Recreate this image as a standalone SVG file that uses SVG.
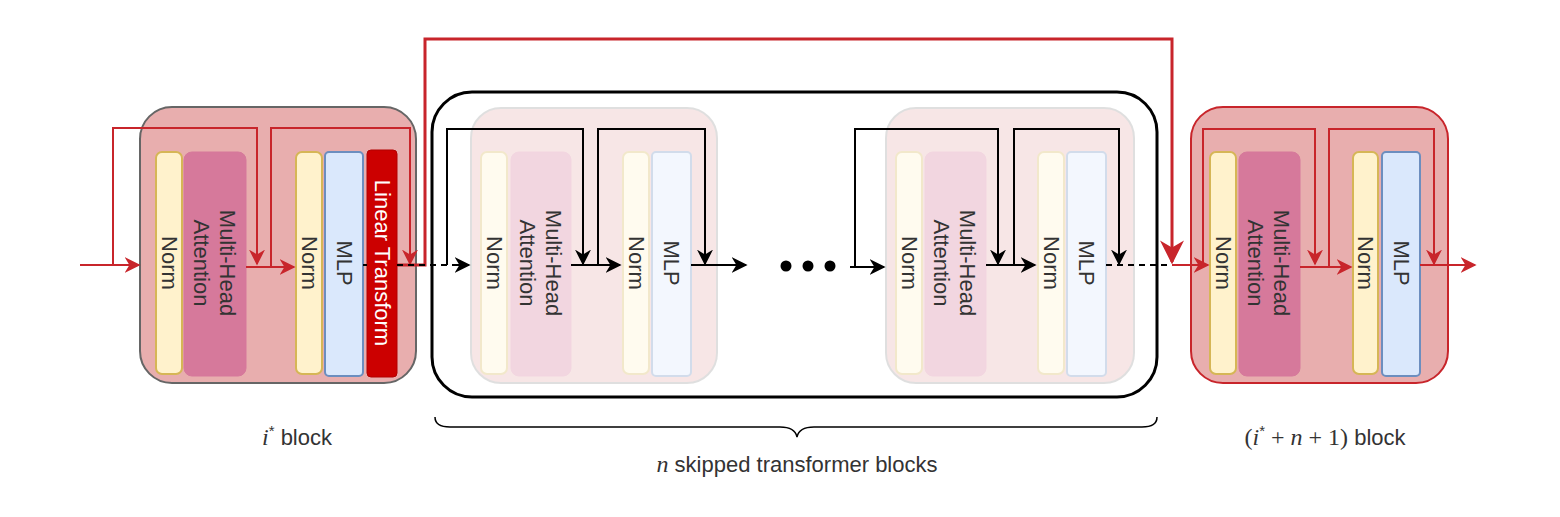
<svg xmlns="http://www.w3.org/2000/svg" width="1560" height="517" viewBox="0 0 1560 517">
<defs>
<style>
text{font-family:"Liberation Sans",Arial,sans-serif;font-size:22px;fill:#333}
.blk{fill:#e8aeae;stroke:#666;stroke-width:2}
.norm{fill:#fff2cc;stroke:#d6b656;stroke-width:2}
.mha{fill:#d6799b;stroke:#d6799b;stroke-width:1}
.mlp{fill:#dae8fc;stroke:#6c8ebf;stroke-width:2}
.r{fill:none;stroke:#c8252b;stroke-width:2}
.k{fill:none;stroke:#000;stroke-width:2}
.rt{text-anchor:middle;dominant-baseline:central}
</style>
<marker id="ar" viewBox="0 0 10 10" refX="9" refY="5" markerWidth="8" markerHeight="8" orient="auto" markerUnits="strokeWidth"><path d="M0,0 L10,5 L0,10 L3,5 z" fill="#c8252b"/></marker>
<marker id="ak" viewBox="0 0 10 10" refX="9" refY="5" markerWidth="8" markerHeight="8" orient="auto" markerUnits="strokeWidth"><path d="M0,0 L10,5 L0,10 L3,5 z" fill="#000"/></marker>
</defs>
<rect width="1560" height="517" fill="#fff"/>

<g id="block-i">
<rect class="blk" x="140" y="107" width="276" height="276" rx="32"/>
<rect class="norm" x="156" y="152" width="26" height="222" rx="6"/>
<rect class="mha" x="184" y="152" width="62" height="224" rx="8"/>
<rect class="norm" x="296" y="152" width="26" height="222" rx="6"/>
<rect class="mlp" x="325" y="152" width="38" height="224" rx="4"/>
<rect x="367" y="150" width="30" height="227" rx="4" fill="#cc0000" stroke="#b20000"/>
<text class="rt" transform="translate(169,263) rotate(90)">Norm</text>
<text class="rt" transform="translate(215,263) rotate(90)"><tspan x="0" dy="-13">Multi-Head</tspan><tspan x="0" dy="26">Attention</tspan></text>
<text class="rt" transform="translate(309,263) rotate(90)">Norm</text>
<text class="rt" transform="translate(344,263) rotate(90)">MLP</text>
<text class="rt" transform="translate(382,263) rotate(90)" style="fill:#fff">Linear Transform</text>
</g>

<g id="skipped">
<rect x="432" y="92" width="725" height="305" rx="40" fill="none" stroke="#000" stroke-width="3"/>
<g id="faded-1" opacity="0.3">
<rect class="blk" x="471" y="108" width="246" height="275" rx="30" style="stroke:#999"/>
<rect class="norm" x="481" y="152" width="26" height="222" rx="6"/>
<rect class="mha" x="511" y="152" width="60" height="224" rx="8"/>
<rect class="norm" x="623" y="152" width="26" height="222" rx="6"/>
<rect class="mlp" x="652" y="152" width="39" height="224" rx="4"/>
</g>
<g>
<text class="rt" transform="translate(494,263) rotate(90)">Norm</text>
<text class="rt" transform="translate(541,263) rotate(90)"><tspan x="0" dy="-13">Multi-Head</tspan><tspan x="0" dy="26">Attention</tspan></text>
<text class="rt" transform="translate(636,263) rotate(90)">Norm</text>
<text class="rt" transform="translate(671,263) rotate(90)">MLP</text>
</g>
<g id="faded-2" opacity="0.3">
<rect class="blk" x="886" y="108" width="248" height="275" rx="30" style="stroke:#999"/>
<rect class="norm" x="896" y="152" width="26" height="222" rx="6"/>
<rect class="mha" x="925" y="152" width="61" height="224" rx="8"/>
<rect class="norm" x="1038" y="152" width="26" height="222" rx="6"/>
<rect class="mlp" x="1067" y="152" width="39" height="224" rx="4"/>
</g>
<g>
<text class="rt" transform="translate(909,263) rotate(90)">Norm</text>
<text class="rt" transform="translate(955,263) rotate(90)"><tspan x="0" dy="-13">Multi-Head</tspan><tspan x="0" dy="26">Attention</tspan></text>
<text class="rt" transform="translate(1051,263) rotate(90)">Norm</text>
<text class="rt" transform="translate(1086,263) rotate(90)">MLP</text>
</g>
<circle cx="786" cy="266" r="5.5" fill="#000"/>
<circle cx="808" cy="266" r="5.5" fill="#000"/>
<circle cx="830" cy="266" r="5.5" fill="#000"/>
</g>

<g id="block-out">
<rect class="blk" x="1191" y="107" width="257" height="276" rx="32" style="stroke:#c8252b"/>
<rect class="norm" x="1210" y="152" width="26" height="222" rx="6"/>
<rect class="mha" x="1239" y="152" width="61" height="224" rx="8"/>
<rect class="norm" x="1353" y="152" width="25" height="222" rx="6"/>
<rect class="mlp" x="1382" y="152" width="38" height="224" rx="4"/>
<text class="rt" transform="translate(1223,263) rotate(90)">Norm</text>
<text class="rt" transform="translate(1269,263) rotate(90)"><tspan x="0" dy="-13">Multi-Head</tspan><tspan x="0" dy="26">Attention</tspan></text>
<text class="rt" transform="translate(1365,263) rotate(90)">Norm</text>
<text class="rt" transform="translate(1401,263) rotate(90)">MLP</text>
</g>

<g id="connectors">
<path class="r" d="M80,265 H139" marker-end="url(#ar)"/>
<path class="r" d="M113,265 V128 H257 V264" marker-end="url(#ar)"/>
<path class="r" d="M246,267 H294" marker-end="url(#ar)"/>
<path class="r" d="M271,267 V128 H410 V264" marker-end="url(#ar)"/>
<path class="r" d="M397,265 H425 V39 H1172 V262" style="stroke-width:3" marker-end="url(#ar)"/>
<path d="M363,265 H367 M397,265 H455" fill="none" stroke="#000" stroke-width="2" stroke-dasharray="6,5"/>
<path class="k" d="M455,265 H469" marker-end="url(#ak)"/>
<path class="k" d="M447,265 V129 H583 V264" marker-end="url(#ak)"/>
<path class="k" d="M571,265 H620" marker-end="url(#ak)"/>
<path class="k" d="M598,265 V129 H705 V264" marker-end="url(#ak)"/>
<path class="k" d="M691,265 H746" marker-end="url(#ak)"/>
<path class="k" d="M850,267 H884" marker-end="url(#ak)"/>
<path class="k" d="M855,267 V129 H998 V264" marker-end="url(#ak)"/>
<path class="k" d="M986,265 H1035" marker-end="url(#ak)"/>
<path class="k" d="M1014,265 V129 H1119 V264" marker-end="url(#ak)"/>
<path d="M1106,265 H1172" fill="none" stroke="#000" stroke-width="2" stroke-dasharray="6,5"/>
<path class="r" d="M1172,265 H1208" marker-end="url(#ar)"/>
<path class="r" d="M1203,265 V129 H1315 V264" marker-end="url(#ar)"/>
<path class="r" d="M1300,267 H1351" marker-end="url(#ar)"/>
<path class="r" d="M1329,267 V129 H1434 V264" marker-end="url(#ar)"/>
<path class="r" d="M1420,265 H1475" marker-end="url(#ar)"/>
</g>

<path d="M435,417 Q435,427 450,427 H780 Q795,427 797,437 Q799,427 814,427 H1142 Q1157,427 1157,417" fill="none" stroke="#000" stroke-width="1.5"/>

<text x="297" y="445" text-anchor="middle"><tspan font-family="'Liberation Serif',serif" font-style="italic" font-size="24">i</tspan><tspan font-size="15" dy="-9">*</tspan><tspan dy="9"> block</tspan></text>
<text x="797" y="472" text-anchor="middle"><tspan font-family="'Liberation Serif',serif" font-style="italic" font-size="24">n</tspan> skipped transformer blocks</text>
<text x="1325" y="445" text-anchor="middle"><tspan font-family="'Liberation Serif',serif" font-size="24">(</tspan><tspan font-family="'Liberation Serif',serif" font-style="italic" font-size="24">i</tspan><tspan font-size="15" dy="-9">*</tspan><tspan dy="9" font-family="'Liberation Serif',serif" font-size="24"> + </tspan><tspan font-family="'Liberation Serif',serif" font-style="italic" font-size="24">n</tspan><tspan font-family="'Liberation Serif',serif" font-size="24"> + 1)</tspan> block</text>
</svg>
